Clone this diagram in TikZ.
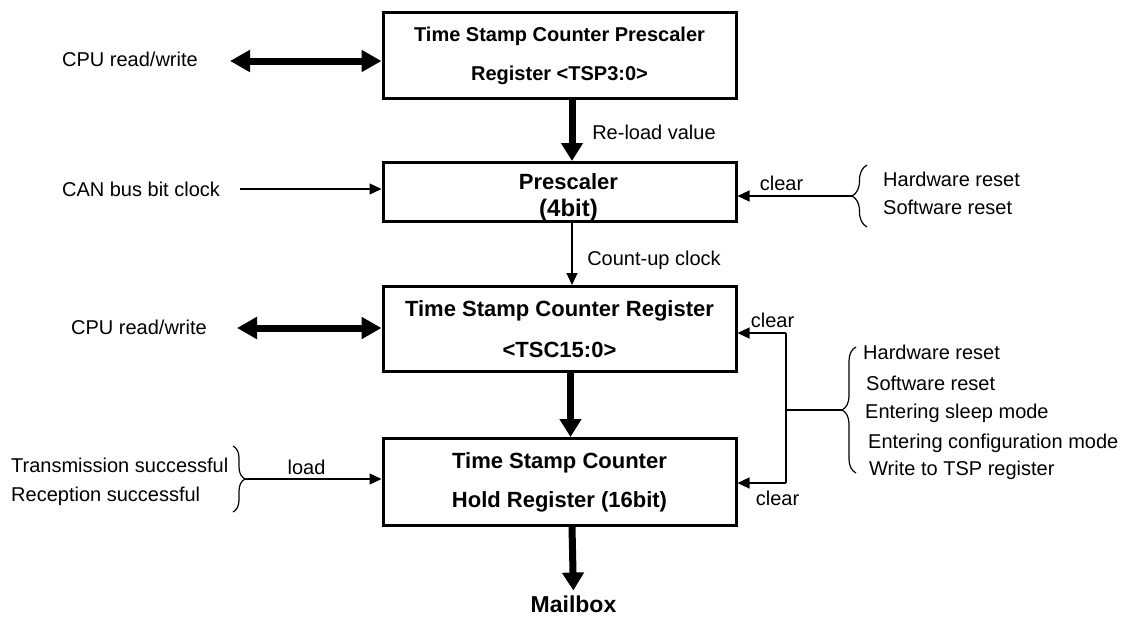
\documentclass[tikz,border=0pt]{standalone}
\usepackage{fontspec}
\setmainfont{Liberation Sans}
\usetikzlibrary{arrows.meta,positioning,decorations.pathreplacing}

\tikzset{
  regbox/.style={draw,line width=3pt,minimum width=353pt,align=center,inner sep=0pt},
  lbl/.style={inner sep=0pt,font=\fontsize{20}{24}\selectfont,text height=14.3pt,text depth=0pt},
  fatarrow/.style={line width=7pt,-{Triangle[length=18pt,width=21pt]}},
  duplex/.style={line width=7pt,{Triangle[length=20pt,width=21pt]}-{Triangle[length=20pt,width=21pt]}},
  sigarrow/.style={line width=1.2pt,-{Triangle[length=12pt,width=11pt]}},
  sigline/.style={line width=1.2pt},
  curly/.style={line width=1.2pt,decorate,decoration={brace,amplitude=#1}},
}

\begin{document}
\begin{tikzpicture}[x=1pt,y=-1pt]
  \useasboundingbox (0,0) rectangle (1121,616);

  % registers
  \node[regbox,minimum height=86pt,font=\fontsize{20}{24}\selectfont\bfseries]
    (tsp) at (559.5,55.5) {Time Stamp Counter Prescaler\\[15pt]Register <TSP3:0>};
  \node[regbox,minimum height=59pt] (pre) at (559.5,192) {};
  \node[align=center,inner sep=0pt,font=\fontsize{22}{26}\selectfont\bfseries]
    (pretxt) at ([xshift=9pt,yshift=-6pt]pre.center)
    {Prescaler\\[1pt]{\fontsize{24}{28}\selectfont(4bit)}};
  \node[regbox,minimum height=85pt,font=\fontsize{22}{26}\selectfont\bfseries]
    (tsc) at (559.5,329) {Time Stamp Counter Register\\[15pt]<TSC15:0>};
  \node[regbox,minimum height=87pt,font=\fontsize{22}{26}\selectfont\bfseries]
    (hold) at (559.5,482) {Time Stamp Counter\\[13pt]Hold Register (16bit)};
  \node[lbl,font=\fontsize{23}{27}\selectfont\bfseries,text height=16.5pt]
    (mbox) at (573.5,604) {Mailbox};

  % left side
  \node[lbl] (cpu1) at (130,59) {CPU read/write};
  \node[lbl] (can) at (141,189) {CAN bus bit clock};
  \node[lbl] (cpu2) at (139,327) {CPU read/write};
  \node[lbl,anchor=west] (txok) at (11,465) {Transmission successful};
  \node[lbl,anchor=west] (rxok) at (11,494) {Reception successful};
  \node[lbl] (load) at (306.5,467) {load};

  % labels on the chain
  \node[lbl] (reload) at (654,132) {Re-load value};
  \node[lbl] (cntup) at (654,258) {Count-up clock};
  \node[lbl] (clr1) at (781.5,183) {clear};
  \node[lbl] (clr2) at (772.5,320) {clear};
  \node[lbl] (clr3) at (777.5,498) {clear};

  % reset sources
  \node[lbl,anchor=west] (hw1) at (883,179) {Hardware reset};
  \node[lbl,anchor=west] (sw1) at (883,207) {Software reset};
  \node[lbl,anchor=west] (hw2) at (863,352) {Hardware reset};
  \node[lbl,anchor=west] (sw2) at (866,383) {Software reset};
  \node[lbl,anchor=west] (slp) at (865,411) {Entering sleep mode};
  \node[lbl,anchor=west] (cfg) at (868,441) {Entering configuration mode};
  \node[lbl,anchor=west] (wtsp) at (869,468) {Write to TSP register};

  % braces and their tips
  \draw[curly=15pt] (867,227) -- (867,165);
  \draw[curly=14pt] (856,473) -- (856,347);
  \draw[curly=12pt] (233,446) -- (233,512);
  \coordinate (tipP) at (852,196);
  \coordinate (tipC) at (842,410);
  \coordinate (tipL) at (245,479);
  \coordinate (jt) at (786,333);
  \coordinate (jm) at (786,410);
  \coordinate (jb) at (786,483);

  % data path
  \draw[fatarrow] ([xshift=12.5pt]tsp.south) -- ([xshift=12.5pt]pre.north);
  \draw[sigarrow] ([xshift=12.5pt]pre.south) -- ([xshift=12.5pt]tsc.north);
  \draw[fatarrow] ([xshift=11pt]tsc.south) -- ([xshift=11pt]hold.north);
  \draw[fatarrow,shorten >=5pt] ([xshift=12.5pt]hold.south) -- (mbox.north);

  % inputs
  \draw[duplex] ([xshift=32pt,yshift=-2pt]cpu1.east) -- ([yshift=-2pt]cpu1.east -| tsp.west);
  \draw[sigarrow] ([xshift=20pt]can.east) -- (can.east -| pre.west);
  \draw[duplex] ([xshift=30pt,yshift=-1pt]cpu2.east) -- ([yshift=-1pt]cpu2.east -| tsc.west);
  \draw[sigarrow] (tipL) -- (tipL -| hold.west);

  % clears
  \draw[sigarrow] (tipP) -- (tipP -| pre.east);
  \draw[sigline] (tipC) -- (jm);
  \draw[sigline] (jt) -- (jb);
  \draw[sigarrow] (jt) -- (jt -| tsc.east);
  \draw[sigarrow] (jb) -- (jb -| hold.east);
\end{tikzpicture}
\end{document}
